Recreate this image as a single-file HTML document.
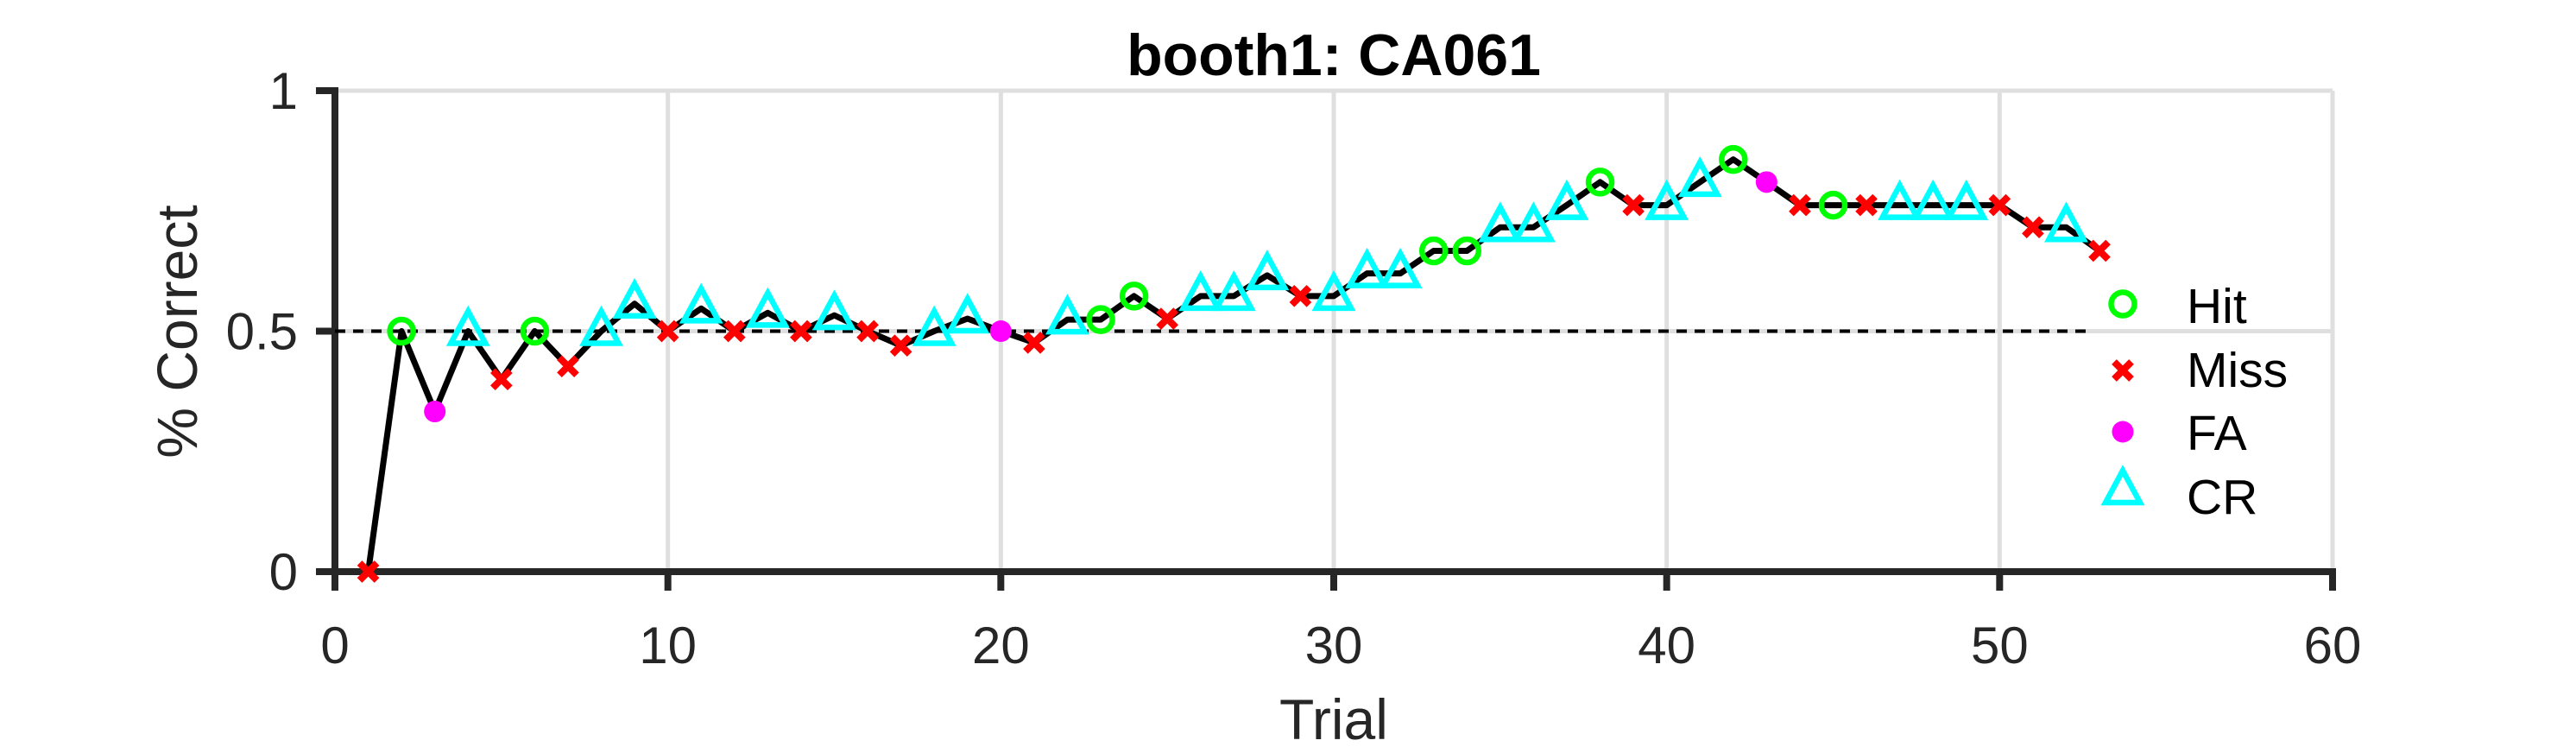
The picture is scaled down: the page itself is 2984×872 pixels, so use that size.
<!DOCTYPE html>
<html><head><meta charset="utf-8"><style>
html,body{margin:0;padding:0;background:#fff;}
svg{display:block;font-family:"Liberation Sans",Arial,sans-serif;}
</style></head><body>
<svg id="chart" width="2984" height="872" viewBox="0 0 2984 872" xmlns="http://www.w3.org/2000/svg">
<text x="1545" y="87" text-anchor="middle" font-size="68" font-weight="bold" fill="#000">booth1: CA061</text>
<g id="grid"></g>
<g id="axes"></g>
<g id="series"></g>
<text x="1545" y="856" text-anchor="middle" font-size="66" fill="#262626">Trial</text>
<text transform="translate(228,384) rotate(-90)" text-anchor="middle" font-size="66" fill="#262626">% Correct</text>
<g id="legend"></g>
</svg>
<script>
const trials = [1,2,3,4,5,6,7,8,9,10,11,12,13,14,15,16,17,18,19,20,21,22,23,24,25,26,27,28,29,30,31,32,33,34,35,36,37,38,39,40,41,42,43,44,45,46,47,48,49,50,51,52,53];
const pctCorrect = [0,0.5,0.333,0.5,0.4,0.5,0.427,0.5,0.557,0.5,0.547,0.5,0.538,0.5,0.533,0.5,0.47,0.5,0.526,0.5,0.476,0.524,0.524,0.573,0.526,0.573,0.573,0.616,0.573,0.573,0.62,0.62,0.667,0.667,0.716,0.716,0.762,0.81,0.762,0.762,0.81,0.857,0.81,0.762,0.762,0.762,0.762,0.762,0.762,0.762,0.716,0.716,0.667];
const outcomes = ["Miss","Hit","FA","CR","Miss","Hit","Miss","CR","CR","Miss","CR","Miss","CR","Miss","CR","Miss","Miss","CR","CR","FA","Miss","CR","Hit","Hit","Miss","CR","CR","CR","Miss","CR","CR","CR","Hit","Hit","CR","CR","CR","Hit","Miss","CR","CR","Hit","FA","Miss","Hit","Miss","CR","CR","CR","Miss","Miss","CR","Miss"];
const xTicks = [0,10,20,30,40,50,60];
const yTicks = [0,0.5,1];
const yTickLabels = ["0","0.5","1"];
const legendLabels = ["Hit","Miss","FA","CR"];
const chanceLevel = [0.5];

const NS="http://www.w3.org/2000/svg";
const X0=388, X1=2702, Y0=662, Y1=105;
const sx=v=>X0+(v-0)/(60-0)*(X1-X0);
const sy=v=>Y0-(v-0)/(1-0)*(Y0-Y1);
function mk(tag,attrs,parent){const e=document.createElementNS(NS,tag);for(const k in attrs)e.setAttribute(k,attrs[k]);parent.appendChild(e);return e;}
const grid=document.getElementById('grid'),axes=document.getElementById('axes'),series=document.getElementById('series'),legend=document.getElementById('legend');

xTicks.forEach(t=>{ if(t===0)return;
  const l=mk('line',{x1:sx(t),x2:sx(t),y1:Y0,y2:Y1,stroke:'#dfdfdf','stroke-width':5},grid);
  
  
});
yTicks.forEach(t=>{ if(t===0)return;
  const l=mk('line',{x1:X0,x2:X1,y1:sy(t),y2:sy(t),stroke:'#dfdfdf','stroke-width':5},grid);
  
  
});
const xa=mk('line',{x1:X0-4,x2:X1+4,y1:Y0,y2:Y0,stroke:'#262626','stroke-width':8},axes);


const ya=mk('line',{x1:X0,x2:X0,y1:Y0+4,y2:Y1-4,stroke:'#262626','stroke-width':8},axes);


xTicks.forEach(t=>{
  const tk=mk('line',{x1:sx(t),x2:sx(t),y1:Y0,y2:Y0+22,stroke:'#262626','stroke-width':8},axes);
  
  
  const tx=mk('text',{x:sx(t),y:768,'text-anchor':'middle','font-size':60,fill:'#262626'},axes);
  tx.textContent=String(t);
  
  
});
yTicks.forEach((t,i)=>{
  const tk=mk('line',{x1:X0-22,x2:X0,y1:sy(t),y2:sy(t),stroke:'#262626','stroke-width':8},axes);
  
  
  const tx=mk('text',{x:345,y:sy(t)+21,'text-anchor':'end','font-size':60,fill:'#262626'},axes);
  tx.textContent=yTickLabels[i];
  
  
});
const ch=mk('line',{x1:X0,x2:sx(52.7),y1:sy(chanceLevel[0]),y2:sy(chanceLevel[0]),stroke:'#000','stroke-width':4,'stroke-dasharray':'12 9'},series);


const pts=trials.map((t,i)=>sx(t)+','+sy(pctCorrect[i])).join(' ');
const pl=mk('polyline',{points:pts,fill:'none',stroke:'#000','stroke-width':7,'stroke-linejoin':'round'},series);



function marker(type,x,y,parent){
  let e;
  if(type==='Hit') e=mk('circle',{cx:x,cy:y,r:13.5,fill:'none',stroke:'#00ff00','stroke-width':6.5},parent);
  else if(type==='FA') e=mk('circle',{cx:x,cy:y,r:12.5,fill:'#ff00ff'},parent);
  else if(type==='Miss') e=mk('path',{d:`M${x-10},${y-10}L${x+10},${y+10}M${x+10},${y-10}L${x-10},${y+10}`,stroke:'#ff0000','stroke-width':8},parent);
  else e=mk('path',{d:`M${x},${y-23}L${x+20},${y+14}L${x-20},${y+14}Z`,fill:'none',stroke:'#00ffff','stroke-width':6.5,'stroke-linejoin':'miter'},parent);
  return e;
}
trials.forEach((t,i)=>{
  const m=marker(outcomes[i],sx(t),sy(pctCorrect[i]),series);
  
  
});
const rowsY=[352,429,500,568];
const textY=[374,448,521,595];
legendLabels.forEach((lab,i)=>{
  const g=mk('g',{},legend);
  
  
  marker(lab,2459,rowsY[i],g);
  const tx=mk('text',{x:2533,y:textY[i],'font-size':57,fill:'#000'},g);
  tx.textContent=lab;
});
</script>
</body></html>
